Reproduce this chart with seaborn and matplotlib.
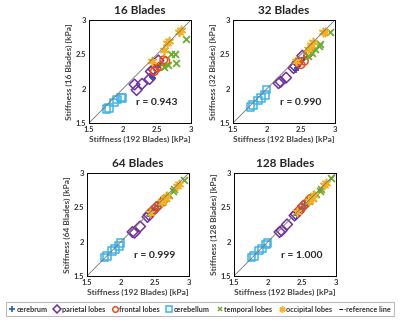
import matplotlib
matplotlib.use('Agg')

import matplotlib.pyplot as plt
import pandas as pd
import seaborn as sns
from matplotlib.lines import Line2D

# region names and styling
regions = ["cerebrum", "parietal lobes", "frontal lobes", "cerebellum", "temporal lobes", "occipital lobes"]
colors = ["#1f5fc4", "#7030a0", "#e8501a", "#3fb3e8", "#6cae2c", "#f5b020"]
markers = ["P", "D", "o", "s", "X", (6, 2, 0)]

panels = ["16", "32", "64", "128"]
r_values = ["0.943", "0.990", "0.999", "1.000"]

# stiffness with 192 blades (reference), per region
x_cerebrum = [2.42, 2.44, 2.50, 2.55]
x_parietal = [2.17, 2.20, 2.28, 2.39, 2.41, 2.45, 2.52]
x_frontal = [2.46, 2.50, 2.55, 2.60, 2.63]
x_cerebellum = [1.76, 1.79, 1.87, 1.91, 1.97, 1.99]
x_temporal = [2.61, 2.66, 2.71, 2.76, 2.78, 2.92]
x_occipital = [2.43, 2.60, 2.64, 2.68, 2.82, 2.85]

# stiffness with fewer blades, per panel
y_cerebrum = {"16": [2.17, 2.15, 2.32, 2.35], "32": [2.27, 2.30, 2.40, 2.45],
              "64": [2.37, 2.39, 2.46, 2.52], "128": [2.39, 2.42, 2.48, 2.53]}
y_parietal = {"16": [2.06, 1.98, 2.07, 2.14, 2.25, 2.28, 2.41], "32": [2.08, 2.10, 2.16, 2.30, 2.33, 2.38, 2.48],
              "64": [2.14, 2.13, 2.22, 2.36, 2.39, 2.43, 2.50], "128": [2.14, 2.16, 2.25, 2.38, 2.40, 2.44, 2.52]}
y_frontal = {"16": [2.25, 2.30, 2.33, 2.42, 2.40], "32": [2.40, 2.35, 2.40, 2.50, 2.53],
             "64": [2.44, 2.48, 2.53, 2.57, 2.61], "128": [2.45, 2.50, 2.55, 2.60, 2.63]}
y_cerebellum = {"16": [1.70, 1.72, 1.80, 1.84, 1.87, 1.86], "32": [1.73, 1.76, 1.83, 1.86, 1.91, 1.99],
                "64": [1.77, 1.79, 1.86, 1.89, 1.94, 1.98], "128": [1.77, 1.79, 1.87, 1.90, 1.96, 1.98]}
y_temporal = {"16": [2.32, 2.35, 2.50, 2.50, 2.38, 2.72], "32": [2.48, 2.52, 2.58, 2.62, 2.65, 2.82],
              "64": [2.58, 2.63, 2.68, 2.73, 2.76, 2.90], "128": [2.59, 2.64, 2.69, 2.74, 2.77, 2.92]}
y_occipital = {"16": [2.40, 2.57, 2.67, 2.70, 2.82, 2.85], "32": [2.40, 2.58, 2.63, 2.68, 2.82, 2.82],
               "64": [2.42, 2.58, 2.63, 2.67, 2.81, 2.84], "128": [2.43, 2.59, 2.64, 2.68, 2.82, 2.85]}

xs = [x_cerebrum, x_parietal, x_frontal, x_cerebellum, x_temporal, x_occipital]
ys = [y_cerebrum, y_parietal, y_frontal, y_cerebellum, y_temporal, y_occipital]

rows = []
for region, xv, yd in zip(regions, xs, ys):
    for p in panels:
        for a, b in zip(xv, yd[p]):
            rows.append({"region": region, "panel": p, "ref": a, "val": b})
df = pd.DataFrame(rows)

sns.set_style("white")
plt.rcParams['font.family'] = ['Lato', 'DejaVu Sans']

fig = plt.figure(figsize=(4, 3.22), dpi=100)
positions = [(0.2225, 0.618, 0.255, 0.32), (0.5825, 0.618, 0.255, 0.32),
             (0.2175, 0.143, 0.255, 0.32), (0.585, 0.143, 0.255, 0.32)]
ref_line = [1.5, 3.0]

for p, r, pos in zip(panels, r_values, positions):
    ax = fig.add_axes(pos)
    sns.lineplot(x=ref_line, y=ref_line, ax=ax, color="0.45", lw=0.6)
    sub = df[df.panel == p]
    for region, c, m in zip(regions, colors, markers):
        d = sub[sub.region == region]
        if region in ("cerebrum", "temporal lobes"):
            mk = "+" if region == "cerebrum" else "x"
            sns.scatterplot(data=d, x="ref", y="val", ax=ax, marker=mk, color=c, s=24, linewidth=1.3)
        elif region == "occipital lobes":
            sns.scatterplot(data=d, x="ref", y="val", ax=ax, marker=m, color=c, s=34, linewidth=1.2)
        else:
            sns.scatterplot(data=d, x="ref", y="val", ax=ax, marker=m, color=c, facecolor="none",
                            edgecolor=c, s=30, linewidth=1.1)
    ax.set_xlim(1.5, 3)
    ax.set_ylim(1.5, 3)
    ax.set_xticks([1.5, 2, 2.5, 3])
    ax.set_yticks([1.5, 2, 2.5, 3])
    ax.set_xticklabels(["1.5", "2", "2.5", "3"])
    ax.set_yticklabels(["1.5", "2", "2.5", "3"])
    ax.tick_params(direction="in", length=2, width=0.5, labelsize=5.5, labelcolor="#333333", pad=2)
    for lab in ax.get_xticklabels() + ax.get_yticklabels():
        lab.set_fontweight("bold")
    for s in ax.spines.values():
        s.set_linewidth(0.7)
        s.set_color("black")
    ax.set_xlabel("Stiffness (192 Blades) [kPa]", fontsize=6, fontweight="bold", color="#444444", labelpad=2)
    ax.set_ylabel(f"Stiffness ({p} Blades) [kPa]", fontsize=6, fontweight="bold", color="#444444", labelpad=2)
    ax.set_title(f"{p} Blades", fontsize=8.5, fontweight="bold", pad=4)
    ax.text(2.5, 1.8, f"r = {r}", fontsize=7.5, fontweight="bold", ha="center", va="center")

handles = [
    Line2D([], [], ls="none", marker="+", color=colors[0], markersize=4, mew=1.2),
    Line2D([], [], ls="none", marker="D", color=colors[1], mfc="none", markersize=4, mew=1.1),
    Line2D([], [], ls="none", marker="o", color=colors[2], mfc="none", markersize=4, mew=1.1),
    Line2D([], [], ls="none", marker="s", color=colors[3], mfc="none", markersize=4, mew=1.1),
    Line2D([], [], ls="none", marker="x", color=colors[4], markersize=3.5, mew=1.1),
    Line2D([], [], ls="none", marker=(6, 2, 0), color=colors[5], markersize=4.5, mew=1.1),
    Line2D([], [], ls="--", color="black", lw=0.7),
]
labels = regions + ["reference line"]
leg = fig.legend(handles, labels, loc="lower left", bbox_to_anchor=(0.005, 0.006, 0.99, 0.07),
                 mode="expand", ncol=7, fontsize=5.2, handlelength=0.8, handletextpad=0.2,
                 columnspacing=0.6, borderpad=0.5, frameon=True, fancybox=False)
leg.get_frame().set_edgecolor("#aaaaaa")
leg.get_frame().set_linewidth(0.8)
for t in leg.get_texts():
    t.set_fontweight("bold")
    t.set_color("#333333")

fig.savefig("out.png", dpi=100)
